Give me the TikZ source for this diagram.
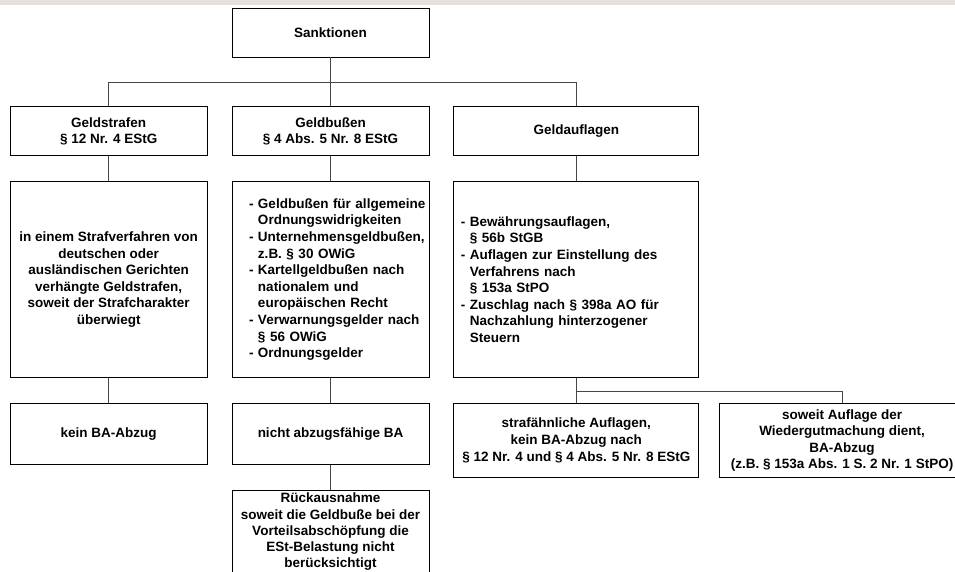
\documentclass[tikz,border=0pt]{standalone}
\usepackage{fontspec}
\setmainfont{Liberation Sans}
\usetikzlibrary{positioning}

\definecolor{bandgray}{RGB}{228,224,218}
\definecolor{linegray}{RGB}{70,70,70}

% hanging indent for the list lines
\newcommand{\ind}{\phantom{-~}}
\newcommand{\lstleft}[1]{\leftskip=#1\relax\hyphenpenalty=10000\relax}

\begin{document}
\begin{tikzpicture}[
  x=1pt, y=-1pt,
  font=\fontsize{13.5}{16.6}\selectfont\bfseries,
  box/.style={rectangle, draw=black, line width=0.8pt, minimum width=197pt,
              align=center, inner sep=2pt},
  head/.style={box, minimum height=49pt},
  detail/.style={box, minimum height=196pt},
  listing/.style={detail, align=left, text width=#1, inner xsep=0pt},
  result/.style={box, minimum height=61pt},
  wide/.style={minimum width=245pt},
  link/.style={draw=linegray, line width=0.8pt},
]
  \useasboundingbox (0,0) rectangle (955,571);
  \clip (0,0) rectangle (955,571);
  \fill[bandgray] (0,0) rectangle (955,5);

  \node[head] (sank) at (330.5,32.5) {Sanktionen};
  \node[head, below=49pt of sank] (bussen) {Geldbußen\\§ 4 Abs. 5 Nr. 8 EStG};
  \node[head, left=24pt of bussen] (strafe) {Geldstrafen\\§ 12 Nr. 4 EStG};
  \node[head, wide, right=24pt of bussen] (auflagen) {Geldauflagen};

  \node[detail, below=25pt of strafe] (strafeTxt) {in einem Strafverfahren von\\deutschen oder\\ausländischen Gerichten\\verhängte Geldstrafen,\\soweit der Strafcharakter\\überwiegt};
  \node[listing=197pt, below=25pt of bussen] (bussenTxt) {\lstleft{17pt}- Geldbußen für allgemeine\\\ind Ordnungswidrigkeiten\\- Unternehmensgeldbußen,\\\ind z.B. § 30 OWiG\\- Kartellgeldbußen nach\\\ind nationalem und\\\ind europäischen Recht\\- Verwarnungsgelder nach\\\ind § 56 OWiG\\- Ordnungsgelder\par};
  \node[listing=245pt, wide, below=25pt of auflagen] (auflagenTxt) {\lstleft{7pt}- Bewährungsauflagen,\\\ind § 56b StGB\\- Auflagen zur Einstellung des\\\ind Verfahrens nach\\\ind § 153a StPO\\- Zuschlag nach § 398a AO für\\\ind Nachzahlung hinterzogener\\\ind Steuern\par};

  \node[result, below=25pt of strafeTxt] (strafeBA) {kein BA-Abzug};
  \node[result, below=25pt of bussenTxt] (bussenBA) {nicht abzugsfähige BA};
  \node[box, wide, minimum height=74pt, below=25pt of auflagenTxt] (auflagenA) {strafähnliche Auflagen,\\kein BA-Abzug nach\\§ 12 Nr. 4 und § 4 Abs. 5 Nr. 8 EStG};
  \node[box, wide, minimum height=74pt, right=20pt of auflagenA] (auflagenB) {soweit Auflage der\\Wiedergutmachung dient,\\BA-Abzug\\(z.B. § 153a Abs. 1 S. 2 Nr. 1 StPO)};
  \node[box, inner ysep=3pt, font=\fontsize{13.5}{16.1}\selectfont\bfseries,
        below=25pt of bussenBA] (rueck) {Rückausnahme\\soweit die Geldbuße bei der\\Vorteilsabschöpfung die\\ESt-Belastung nicht\\berücksichtigt};

  \draw[link] (sank.south) -- (bussen.north);
  \draw[link] (sank.south) -- ++(0,24.5) -| (strafe.north);
  \draw[link] (sank.south) -- ++(0,24.5) -| (auflagen.north);
  \draw[link] (strafe.south) -- (strafeTxt.north);
  \draw[link] (bussen.south) -- (bussenTxt.north);
  \draw[link] (auflagen.south) -- (auflagenTxt.north);
  \draw[link] (strafeTxt.south) -- (strafeBA.north);
  \draw[link] (bussenTxt.south) -- (bussenBA.north);
  \draw[link] (auflagenTxt.south) -- (auflagenA.north);
  \draw[link] (auflagenTxt.south) -- ++(0,13) -| (auflagenB.north);
  \draw[link] (bussenBA.south) -- (rueck.north);
\end{tikzpicture}
\end{document}
